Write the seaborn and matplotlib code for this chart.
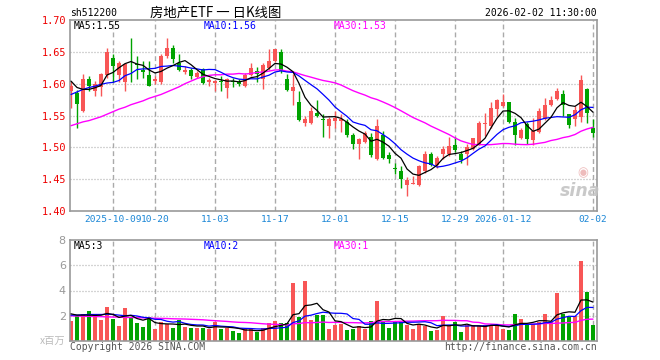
import numpy as np
import pandas as pd
import matplotlib
matplotlib.use("Agg")
import matplotlib.pyplot as plt
import seaborn as sns

# ---------------- data ----------------
open_ = [1.588,1.585,1.557,1.607,1.589,1.594,1.613,1.641,1.613,1.603,
         1.633,1.631,1.622,1.613,1.604,1.603,1.643,1.656,1.633,1.618,
         1.621,1.611,1.623,1.602,1.601,1.604,1.593,1.604,1.603,1.596,
         1.614,1.620,1.607,1.625,1.635,1.650,1.607,1.588,1.571,1.539,
         1.539,1.554,1.544,1.533,1.541,1.541,1.540,1.520,1.505,1.509,
         1.516,1.481,1.520,1.488,1.467,1.463,1.441,1.443,1.441,1.463,
         1.489,1.472,1.489,1.489,1.503,1.490,1.489,1.497,1.505,1.537,
         1.533,1.560,1.565,1.571,1.540,1.515,1.537,1.511,1.524,1.544,
         1.567,1.576,1.583,1.552,1.544,1.548,1.591,1.531]
close = [1.597,1.568,1.608,1.596,1.599,1.615,1.650,1.628,1.633,1.631,
         1.632,1.630,1.618,1.597,1.607,1.644,1.656,1.638,1.622,1.621,
         1.612,1.617,1.601,1.606,1.604,1.602,1.607,1.602,1.599,1.614,
         1.625,1.615,1.630,1.635,1.654,1.620,1.590,1.595,1.543,1.545,
         1.557,1.550,1.543,1.545,1.546,1.544,1.519,1.506,1.513,1.522,
         1.488,1.534,1.484,1.481,1.466,1.450,1.449,1.444,1.471,1.489,
         1.472,1.484,1.497,1.502,1.496,1.480,1.500,1.514,1.538,1.539,
         1.562,1.575,1.571,1.540,1.519,1.528,1.513,1.526,1.557,1.566,
         1.574,1.588,1.566,1.535,1.559,1.606,1.554,1.522]
high = [1.604,1.590,1.615,1.612,1.604,1.617,1.656,1.646,1.635,1.633,
        1.671,1.643,1.635,1.635,1.612,1.647,1.672,1.660,1.647,1.627,
        1.624,1.620,1.625,1.609,1.606,1.612,1.609,1.609,1.607,1.617,
        1.633,1.626,1.633,1.654,1.655,1.655,1.615,1.615,1.589,1.550,
        1.564,1.575,1.552,1.548,1.557,1.552,1.544,1.522,1.515,1.526,
        1.522,1.544,1.526,1.492,1.476,1.471,1.454,1.455,1.473,1.494,
        1.492,1.487,1.502,1.517,1.517,1.494,1.505,1.515,1.541,1.554,
        1.571,1.576,1.583,1.571,1.546,1.531,1.540,1.546,1.562,1.578,
        1.580,1.593,1.590,1.553,1.565,1.614,1.593,1.544]
low = [1.562,1.531,1.556,1.589,1.581,1.581,1.609,1.602,1.602,1.589,
       1.602,1.607,1.609,1.597,1.599,1.599,1.641,1.633,1.620,1.615,
       1.607,1.609,1.599,1.596,1.589,1.589,1.578,1.595,1.596,1.595,
       1.612,1.602,1.591,1.622,1.634,1.617,1.589,1.566,1.542,1.534,
       1.537,1.548,1.517,1.515,1.531,1.524,1.517,1.497,1.482,1.507,
       1.485,1.480,1.481,1.476,1.458,1.436,1.423,1.442,1.440,1.460,
       1.470,1.468,1.482,1.487,1.492,1.475,1.472,1.496,1.503,1.518,
       1.531,1.550,1.564,1.538,1.503,1.513,1.505,1.503,1.523,1.543,
       1.565,1.575,1.549,1.531,1.533,1.540,1.539,1.517]
volume = [1.58,2.00,2.13,2.37,2.05,1.66,2.71,1.74,1.18,2.60,
          1.92,1.45,1.10,1.87,0.95,1.53,1.32,1.05,1.66,1.13,
          1.05,1.05,1.05,0.97,1.53,0.95,1.00,0.82,0.66,0.92,
          0.92,0.74,1.00,1.45,1.58,1.39,1.39,4.60,1.87,4.76,
          1.66,2.05,2.05,0.95,1.27,1.35,0.87,0.95,1.19,0.95,
          1.59,3.20,1.59,1.03,1.53,1.53,1.30,0.95,1.35,1.19,
          0.79,0.87,1.98,1.19,1.53,0.71,1.27,1.27,1.19,1.27,
          1.19,1.27,0.95,0.87,2.14,1.75,1.27,1.35,1.53,2.14,
          1.53,3.81,2.14,1.93,1.98,6.35,3.89,1.27]

# moving-average values visible before enough history exists in the window
ma5_head = [1.604, 1.594, 1.591, 1.591]
ma10_head = [1.583, 1.587, 1.591, 1.594, 1.596, 1.599, 1.601, 1.602, 1.605]
ma30_head = [1.534, 1.537, 1.540, 1.542, 1.545, 1.548, 1.552, 1.556, 1.560, 1.563,
             1.567, 1.570, 1.573, 1.577, 1.580, 1.583, 1.587, 1.591, 1.595, 1.600,
             1.604, 1.608, 1.611, 1.613, 1.614, 1.614, 1.615, 1.615, 1.616]
vma5_head = [2.15, 2.05, 2.05, 2.05]
vma10_head = [2.05, 2.05, 2.08, 2.10, 2.10, 2.10, 2.12, 2.10, 2.05]
vma30_head = [1.99, 1.98, 1.96, 1.95, 1.94, 1.93, 1.91, 1.90, 1.89, 1.87,
              1.86, 1.85, 1.83, 1.82, 1.80, 1.79, 1.78, 1.76, 1.75, 1.74,
              1.72, 1.70, 1.68, 1.64, 1.61, 1.58, 1.55, 1.51, 1.48]

tick_idx = [7, 14, 24, 34, 44, 54, 64, 72, 87]
tick_labels = ["2025-10-09", "10-20", "11-03", "11-17", "12-01",
               "12-15", "12-29", "2026-01-12", "02-02"]
price_ticks = [1.40, 1.45, 1.50, 1.55, 1.60, 1.65, 1.70]
vol_ticks = [2, 4, 6, 8]

# ---------------- helpers ----------------
def moving(vals, n, head):
    s = pd.Series(vals).rolling(n).mean().to_numpy()
    s[:n - 1] = head
    return s

W, H = 660, 360
def fx(px): return px / W
def fy(py): return 1 - py / H

RED, GREEN = "#f85656", "#00a300"
GRID = "#aaaaaa"
SPINE = "#999999"
MONO = ["DejaVu Sans Mono", "Noto Sans CJK SC"]
FS = 7.0

sns.set_style("white")
plt.rcParams["font.family"] = MONO

n = len(close)
idx = np.arange(n)
o = np.array(open_); c = np.array(close)
up = c >= o
colors = np.where(up, RED, GREEN)

fig = plt.figure(figsize=(6.6, 3.6), dpi=100)
ax1 = fig.add_axes([fx(70), fy(211), fx(597) - fx(70), fy(20) - fy(211)])
ax2 = fig.add_axes([fx(70), fy(341), fx(597) - fx(70), fy(240) - fy(341)])

xlim = (-1 / 6, 526 / 6)

# ---------------- price panel ----------------
for yv in price_ticks[1:-1]:
    ax1.axhline(yv, color=GRID, lw=0.9, ls=(0, (0.8, 1.6)), zorder=0)
for t in tick_idx:
    ax1.axvline(t, color=GRID, lw=1.0, ls=(0, (3.5, 2.2)), zorder=0)

ax1.vlines(idx, low, high, colors=colors, lw=1.0, zorder=2)
body = np.maximum(np.abs(c - o), 0.0011)
ax1.bar(idx, body, bottom=np.minimum(o, c), width=0.7, color=colors,
        linewidth=0, zorder=3)

ma5 = moving(close, 5, ma5_head)
ma10 = moving(close, 10, ma10_head)
ma30 = moving(close, 30, ma30_head)
sns.lineplot(x=idx, y=ma30, color="#ff00ff", lw=1.0, ax=ax1, zorder=4)
sns.lineplot(x=idx, y=ma10, color="#0000ff", lw=0.9, ax=ax1, zorder=5)
sns.lineplot(x=idx, y=ma5, color="black", lw=0.9, ax=ax1, zorder=6)

ax1.set_xlim(*xlim)
ax1.set_ylim(1.40, 1.70)
ax1.set_yticks(price_ticks)
ax1.set_yticklabels([f"{v:.2f}" for v in price_ticks], color="#ee0000",
                    fontsize=7.4, family=MONO)
ax1.set_xticks(tick_idx)
ax1.set_xticklabels(tick_labels, color="#1a86d6", fontsize=6.8, family=MONO)
ax1.tick_params(axis="both", length=0, pad=3)
for s in ax1.spines.values():
    s.set_color(SPINE); s.set_linewidth(1.2)
ax1.set_xlabel(""); ax1.set_ylabel("")

# ---------------- volume panel ----------------
for yv in [2, 4, 6]:
    ax2.axhline(yv, color=GRID, lw=0.9, ls=(0, (0.8, 1.6)), zorder=0)
for t in tick_idx:
    ax2.axvline(t, color=GRID, lw=1.0, ls=(0, (3.5, 2.2)), zorder=0)

vdf = pd.DataFrame({"i": idx, "vol": volume,
                    "dir": np.where(up, "up", "down")})
sns.barplot(data=vdf, x="i", y="vol", hue="dir",
            palette={"up": RED, "down": GREEN}, native_scale=True,
            dodge=False, width=0.7, saturation=1, errorbar=None,
            legend=False, linewidth=0, ax=ax2, zorder=2)

vma5 = moving(volume, 5, vma5_head)
vma10 = moving(volume, 10, vma10_head)
vma30 = moving(volume, 30, vma30_head)
sns.lineplot(x=idx, y=vma30, color="#ff00ff", lw=1.0, ax=ax2, zorder=4)
sns.lineplot(x=idx, y=vma10, color="#0000ff", lw=0.9, ax=ax2, zorder=5)
sns.lineplot(x=idx, y=vma5, color="black", lw=0.9, ax=ax2, zorder=6)

ax2.set_xlim(*xlim)
ax2.set_ylim(0, 8)
ax2.set_xticks([])
ax2.set_yticks(vol_ticks)
ax2.set_yticklabels([str(v) for v in vol_ticks], color="#999999",
                    fontsize=8, family=["DejaVu Sans"])
ax2.tick_params(axis="both", length=0, pad=3)
for s in ax2.spines.values():
    s.set_color(SPINE); s.set_linewidth(1.2)
ax2.set_xlabel(""); ax2.set_ylabel("")

# ---------------- texts ----------------
fig.text(fx(70), fy(13), "sh512200", fontsize=FS, family=MONO,
         ha="left", va="center", color="black")
fig.text(fx(216), fy(13), "房地产ETF 一 日K线图", fontsize=9.6,
         family=["Noto Sans CJK SC", "DejaVu Sans"], ha="center",
         va="center", color="black")
fig.text(fx(597), fy(13), "2026-02-02 11:30:00", fontsize=FS, family=MONO,
         ha="right", va="center", color="black")

fig.text(fx(74), fy(26), "MA5:1.55", fontsize=FS, family=MONO,
         ha="left", va="center", color="black")
fig.text(fx(204), fy(26), "MA10:1.56", fontsize=FS, family=MONO,
         ha="left", va="center", color="#0000ff")
fig.text(fx(334), fy(26), "MA30:1.53", fontsize=FS, family=MONO,
         ha="left", va="center", color="#ff00ff")

fig.text(fx(74), fy(246), "MA5:3", fontsize=FS, family=MONO,
         ha="left", va="center", color="black")
fig.text(fx(204), fy(246), "MA10:2", fontsize=FS, family=MONO,
         ha="left", va="center", color="#0000ff")
fig.text(fx(334), fy(246), "MA30:1", fontsize=FS, family=MONO,
         ha="left", va="center", color="#ff00ff")

fig.text(fx(65), fy(341), "x百万", fontsize=7.4,
         family=["Noto Sans CJK SC", "DejaVu Sans"], ha="right",
         va="center", color="#bbbbbb")
fig.text(fx(70), fy(347), "Copyright 2026 SINA.COM", fontsize=FS,
         family=MONO, ha="left", va="center", color="#555555")
fig.text(fx(597), fy(347), "http://finance.sina.com.cn", fontsize=FS,
         family=MONO, ha="right", va="center", color="#555555")

# watermark
fig.text(fx(580), fy(191), "sina", fontsize=12.5, family=["DejaVu Sans"],
         style="italic", weight="bold", ha="center", va="center",
         color="#c4c4c4", alpha=0.9)
fig.text(fx(583), fy(173), "◉", fontsize=9, family=["DejaVu Sans"],
         ha="center", va="center", color="#e8a0a0", alpha=0.7)

fig.savefig("out.png", dpi=100)
